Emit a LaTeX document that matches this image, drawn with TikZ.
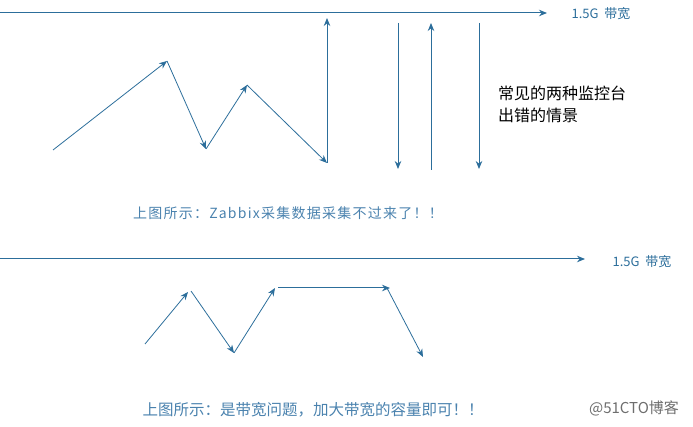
\documentclass[tikz,border=0pt]{standalone}
\usepackage{fontspec}
\setmainfont{Noto Sans CJK SC}
\newfontfamily\cjk{Noto Sans CJK SC}
\usetikzlibrary{arrows.meta,positioning}
\definecolor{flowblue}{HTML}{2C6E9B}
\definecolor{capblue}{HTML}{4A82AE}
\definecolor{markgray}{HTML}{6E6E6E}

\begin{document}
\begin{tikzpicture}[x=1pt, y=-1pt, >={Stealth[length=8pt,width=6.5pt]},
    flow/.style={draw=flowblue, line width=0.8pt, ->},
    band/.style={draw=flowblue, line width=1pt, ->},
    bwlabel/.style={text=flowblue, anchor=west, font=\cjk\fontsize{13}{15}\selectfont},
    caption/.style={text=capblue, font=\cjk\fontsize{14}{16}\selectfont}]

  \useasboundingbox (0,0) rectangle (693,427);

  % upper picture
  \coordinate (t0) at (0,13);
  \coordinate (t1) at (547,13);
  \draw[band] (t0) -- (t1);
  \node[bwlabel] (bwA) at (568,14) {1.5G\ \ 带宽};

  \coordinate (a0) at (53,150);
  \coordinate (a1) at (167,61);
  \coordinate (a2) at (206,149);
  \coordinate (a3) at (247,85);
  \coordinate (a4) at (327,163);
  \coordinate (a5) at (327,18);
  \draw[flow] (a0) -- (a1);
  \draw[flow] (a1) -- (a2);
  \draw[flow] (a2) -- (a3);
  \draw[flow] (a3) -- (a4);
  \draw[band] (a4) -- (a5);

  \coordinate (v1s) at (398,23);
  \coordinate (v1e) at (398,169);
  \coordinate (v2s) at (431,170);
  \coordinate (v2e) at (431,23);
  \coordinate (v3s) at (479,23);
  \coordinate (v3e) at (479,169);
  \draw[band] (v1s) -- (v1e);
  \draw[band] (v2s) -- (v2e);
  \draw[band] (v3s) -- (v3e);

  \node[anchor=north west, align=left, inner sep=0pt,
        font=\cjk\fontsize{16}{22}\selectfont] (note) at (498,86)
        {常见的两种监控台\\出错的情景};

  \node[caption] (capA) at (288,213)
        {\addfontfeature{LetterSpace=9}上图所示：Zabbix采集数据采集不过来了！！};

  % lower picture
  \coordinate (s0) at (0,259);
  \coordinate (s1) at (585,259);
  \draw[band] (s0) -- (s1);
  \node[bwlabel] (bwB) at (609,262) {1.5G\ \ 带宽};

  \coordinate (b0) at (145,344);
  \coordinate (b1) at (188,292);
  \coordinate (b2) at (191,291);
  \coordinate (b3) at (234,353);
  \coordinate (b4) at (275,288);
  \coordinate (b5) at (278,288);
  \coordinate (b6) at (390,288);
  \coordinate (b7) at (387,288);
  \coordinate (b8) at (423,357);
  \draw[flow] (b0) -- (b1);
  \draw[flow] (b2) -- (b3);
  \draw[flow] (b3) -- (b4);
  \draw[band] (b5) -- (b6);
  \draw[flow] (b7) -- (b8);

  \node[caption, font=\cjk\fontsize{15.5}{17}\selectfont] (capB) at (313,410)
        {上图所示：是带宽问题，加大带宽的容量即可！！};

  \node[text=markgray, font=\cjk\fontsize{15}{17}\selectfont] (mark) at (634,408) {@51CTO博客};
\end{tikzpicture}
\end{document}
